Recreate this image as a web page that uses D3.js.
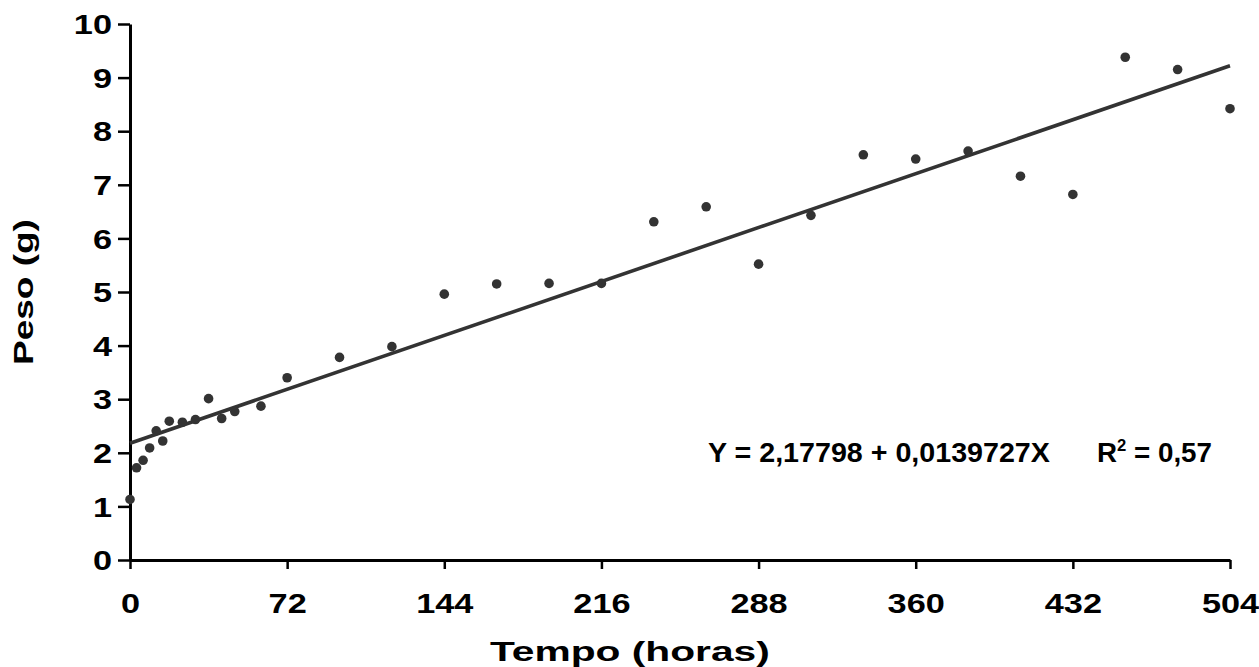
<!DOCTYPE html>
<html>
<head>
<meta charset="utf-8">
<script src="https://cdn.jsdelivr.net/npm/d3@7/dist/d3.min.js"></script>
<style>
  html, body { margin: 0; padding: 0; background: #fff; }
  svg { display: block; }
  text { font-family: "Liberation Sans", Arial, Helvetica, sans-serif; font-weight: bold; fill: #000; }
</style>
</head>
<body>
<script>
// ---- data ----
const hours  = [0, 3, 6, 9, 12, 15, 18, 24, 30, 36, 42, 48, 60, 72, 96, 120, 144, 168, 192, 216, 240, 264, 288, 312, 336, 360, 384, 408, 432, 456, 480, 504];
const weights = [1.13, 1.72, 1.86, 2.09, 2.41, 2.22, 2.59, 2.57, 2.62, 3.01, 2.64, 2.77, 2.87, 3.40, 3.78, 3.98, 4.96, 5.15, 5.16, 5.16, 6.31, 6.59, 5.52, 6.43, 7.56, 7.48, 7.63, 7.16, 6.82, 9.38, 9.15, 8.42];
const xTicks = [0, 72, 144, 216, 288, 360, 432, 504];
const yTicks = [0, 1, 2, 3, 4, 5, 6, 7, 8, 9, 10];
const intercept = 2.17798;
const slope = 0.0139727;
const equationText = "Y = 2,17798 + 0,0139727X";
const r2Value = "0,57";
const xTitle = "Tempo (horas)";
const yTitle = "Peso (g)";

const W = 1259, H = 667;
const svg = d3.select("body").append("svg").attr("width", W).attr("height", H);
svg.append("rect").attr("width", W).attr("height", H).attr("fill", "#fff");

const x = d3.scaleLinear().domain([0, 504]).range([130, 1230]);
const y = d3.scaleLinear().domain([0, 10]).range([560, 24]);

const FS = 27;       // tick label font size
const SX = 1.27;     // horizontal stretch of the tick labels
const TFS = 27;      // title / equation font size

// ---- axes ----
const xAxis = svg.append("g").attr("transform", `translate(0,${y(0)})`)
  .call(d3.axisBottom(x).tickValues(xTicks).tickSize(9).tickSizeOuter(0).tickPadding(25).tickFormat(d3.format("d")));
const yAxis = svg.append("g").attr("transform", `translate(${x(0)},0)`)
  .call(d3.axisLeft(y).tickValues(yTicks).tickSize(12).tickSizeOuter(0).tickPadding(6).tickFormat(d3.format("d")));

[xAxis, yAxis].forEach(g => {
  g.select(".domain").attr("stroke", "#000").attr("stroke-width", 3);
  g.selectAll(".tick line").attr("stroke", "#000").attr("stroke-width", 2.5);
  g.selectAll(".tick text").attr("font-size", FS).attr("font-family", null).attr("fill", "#000");
});
xAxis.selectAll(".tick text").attr("transform", `scale(${SX},1)`);
yAxis.selectAll(".tick text").attr("x", -18 / SX).attr("dy", "0.36em").attr("transform", `scale(${SX},1)`);

// ---- regression line ----
const line = d3.line().x(d => x(d)).y(d => y(intercept + slope * d));
svg.append("path").datum([0, 504]).attr("d", line)
  .attr("fill", "none").attr("stroke", "#333").attr("stroke-width", 3.6);

// ---- points ----
svg.append("g").selectAll("circle").data(hours).join("circle")
  .attr("cx", d => x(d)).attr("cy", (d, i) => y(weights[i])).attr("r", 4.8).attr("fill", "#333");

// ---- texts stretched to target widths ----
function stretchedText(parent, str, x0, y0, width, anchor, rotate) {
  const g = parent.append("g");
  const t = g.append("text").attr("font-size", TFS).text(str);
  const nat = t.node().getComputedTextLength();
  const s = width / nat;
  const offset = anchor === "middle" ? -width / 2 : 0;
  g.attr("transform", `translate(${x0},${y0})` + (rotate ? ` rotate(${rotate})` : "") + ` translate(${offset},0) scale(${s},1)`);
  return t;
}
stretchedText(svg, xTitle, 630, 661, 280, "middle");
stretchedText(svg, yTitle, 33, 292, 146, "middle", -90);

// equation
stretchedText(svg, equationText, 708, 462, 342, "start");
// R² text
(function() {
  const g = svg.append("g");
  const t = g.append("text").attr("font-size", TFS);
  t.append("tspan").text("R");
  t.append("tspan").attr("font-size", TFS * 0.6).attr("dy", -11).text("2");
  t.append("tspan").attr("dy", 11).text(" = " + r2Value);
  const nat = t.node().getComputedTextLength();
  const s = 115 / nat;
  g.attr("transform", `translate(1097,462) scale(${s},1)`);
})();
</script>
</body>
</html>
